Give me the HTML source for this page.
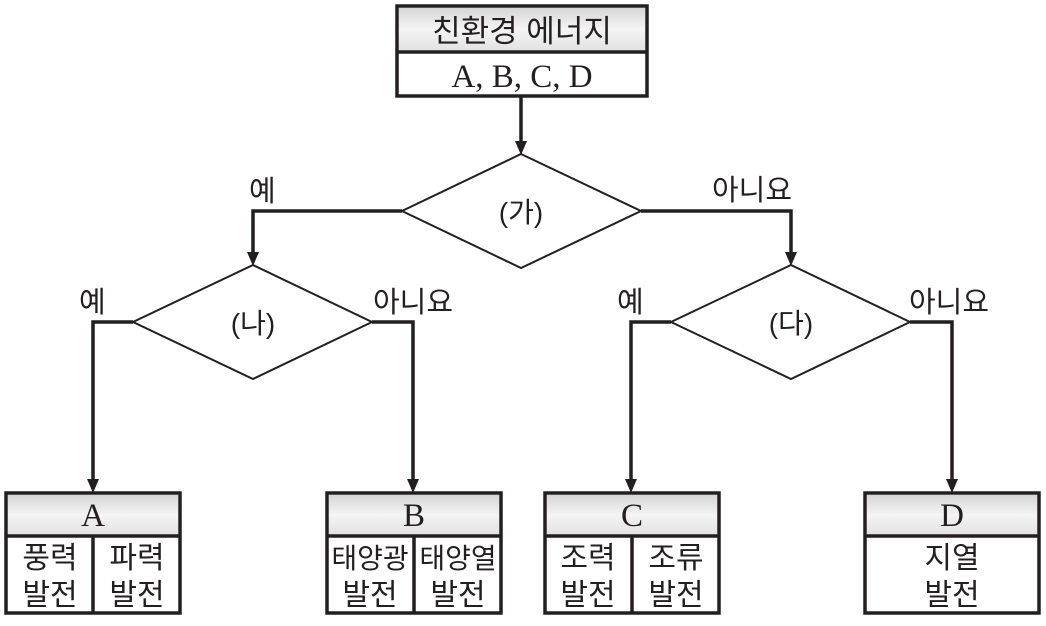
<!DOCTYPE html>
<html><head><meta charset="utf-8"><style>
body{margin:0;background:#fff}
svg text{font-family:"Liberation Sans","Noto Sans CJK KR",sans-serif;fill:#231f20}
.s{font-family:"Liberation Serif","Noto Serif CJK SC",serif}
</style></head><body>
<svg width="1046" height="621" viewBox="0 0 1046 621" xmlns="http://www.w3.org/2000/svg">
<defs>
<linearGradient id="g" x1="0" y1="0" x2="0" y2="1"><stop offset="0" stop-color="#d6d6d6"/><stop offset="0.5" stop-color="#f4f4f4"/><stop offset="1" stop-color="#e2e2e2"/></linearGradient>
</defs>
<g stroke="#231f20" fill="none">
<rect x="397" y="6" width="250" height="90" fill="#fff" stroke-width="3.5"/>
<rect x="399" y="8" width="246" height="43" fill="url(#g)" stroke="none"/>
<line x1="397" y1="52" x2="647" y2="52" stroke-width="3.5"/>
<polygon points="521,154 641,211 521,268 402,211" stroke-width="2" fill="#fff"/>
<polygon points="253,265 372,322 253,379 133,322" stroke-width="2" fill="#fff"/>
<polygon points="791,265 910,322 791,379 671,322" stroke-width="2" fill="#fff"/>
<g stroke-width="3.5">
<polyline points="521,97 521,144"/>
<polyline points="402,211 253,211 253,255"/>
<polyline points="641,211 791,211 791,255"/>
<polyline points="133,322 93,322 93,482"/>
<polyline points="372,322 413,322 413,482"/>
<polyline points="671,322 631,322 631,482"/>
<polyline points="910,322 952,322 952,482"/>
</g>
</g>
<g fill="#231f20">
<path d="M515,141 L527,141 L521,155 Z"/>
<path d="M247,252 L259,252 L253,266 Z"/>
<path d="M785,252 L797,252 L791,266 Z"/>
<path d="M87,479 L99,479 L93,493 Z"/>
<path d="M407,479 L419,479 L413,493 Z"/>
<path d="M625,479 L637,479 L631,493 Z"/>
<path d="M946,479 L958,479 L952,493 Z"/>
</g>
<g stroke="#231f20" stroke-width="3.5">
<rect x="6" y="493" width="174" height="120" fill="#fff"/><rect x="8" y="495" width="170" height="40" fill="url(#g)" stroke="none"/><line x1="6" y1="536" x2="180" y2="536"/><line x1="93" y1="536" x2="93" y2="613"/>
<rect x="327" y="493" width="174" height="120" fill="#fff"/><rect x="329" y="495" width="170" height="40" fill="url(#g)" stroke="none"/><line x1="327" y1="536" x2="501" y2="536"/><line x1="414" y1="536" x2="414" y2="613"/>
<rect x="545" y="493" width="174" height="120" fill="#fff"/><rect x="547" y="495" width="170" height="40" fill="url(#g)" stroke="none"/><line x1="545" y1="536" x2="719" y2="536"/><line x1="632" y1="536" x2="632" y2="613"/>
<rect x="865" y="493" width="174" height="120" fill="#fff"/><rect x="867" y="495" width="170" height="40" fill="url(#g)" stroke="none"/><line x1="865" y1="536" x2="1039" y2="536"/>
</g>
<g text-anchor="middle">
<text x="522" y="42" font-size="31">친환경 에너지</text>
<text x="522" y="87" class="s" font-size="33">A, B, C, D</text>
<text x="521" y="222" font-size="28">(가)</text>
<text x="253" y="333" font-size="28">(나)</text>
<text x="791" y="333" font-size="28">(다)</text>
</g>
<g font-size="29">
<text x="249" y="201">예</text>
<text x="712" y="200">아니요</text>
<text x="79" y="312">예</text>
<text x="373" y="312">아니요</text>
<text x="617" y="312">예</text>
<text x="909" y="312">아니요</text>
</g>
<g text-anchor="middle" font-size="33" class="s">
<text x="93" y="526" class="s">A</text>
<text x="414" y="526" class="s">B</text>
<text x="632" y="526" class="s">C</text>
<text x="952" y="526" class="s">D</text>
</g>
<g text-anchor="middle" font-size="30">
<text x="50" y="568">풍력</text><text x="50" y="605">발전</text>
<text x="137" y="568">파력</text><text x="137" y="605">발전</text>
<text x="370" y="568" font-size="28">태양광</text><text x="370" y="605">발전</text>
<text x="458" y="568" font-size="28">태양열</text><text x="458" y="605">발전</text>
<text x="588" y="568">조력</text><text x="588" y="605">발전</text>
<text x="676" y="568">조류</text><text x="676" y="605">발전</text>
<text x="952" y="568">지열</text><text x="952" y="605">발전</text>
</g>
</svg>
</body></html>
